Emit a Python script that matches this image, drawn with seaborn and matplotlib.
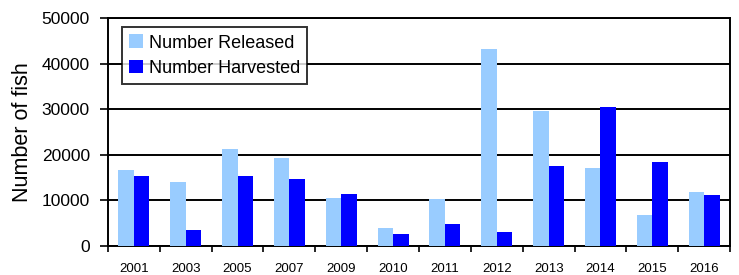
import numpy as np
import pandas as pd
import matplotlib
matplotlib.use("Agg")
import matplotlib.pyplot as plt
import seaborn as sns

years = ["2001", "2003", "2005", "2007", "2009", "2010", "2011", "2012", "2013", "2014", "2015", "2016"]
released = [16700, 14100, 21200, 19400, 10600, 4000, 10200, 43300, 29500, 17200, 6700, 11900]
harvested = [15400, 3600, 15400, 14600, 11500, 2700, 4900, 3100, 17600, 30400, 18500, 11100]

df = pd.DataFrame({
    "Year": years * 2,
    "Value": released + harvested,
    "Series": ["Number Released"] * len(years) + ["Number Harvested"] * len(years),
})

sns.set_style("white")
plt.rcParams["font.family"] = ["Liberation Sans", "DejaVu Sans"]
plt.rcParams["text.color"] = "black"
plt.rcParams["axes.labelcolor"] = "black"
plt.rcParams["xtick.color"] = "black"
plt.rcParams["ytick.color"] = "black"

fig = plt.figure(figsize=(7.39, 2.75), dpi=100)
ax = fig.add_axes([0.146, 0.1055, 0.842, 0.829])

sns.barplot(data=df, x="Year", y="Value", hue="Series",
            palette=["#99CCFF", "#0000FF"], width=0.6, gap=0,
            saturation=1, ax=ax, errorbar=None, zorder=3, linewidth=0)

ax.set_ylim(0, 50000)
ax.set_xlim(-0.5, len(years) - 0.5)
ax.set_yticks(np.arange(0, 50001, 10000))
ax.set_yticklabels([str(v) for v in range(0, 50001, 10000)], fontsize=12.5)
ax.yaxis.grid(True, color="black", linewidth=1.4, zorder=0)
ax.set_axisbelow(True)

ax.set_xticks(range(len(years)))
ax.set_xticklabels(years, fontsize=9.5)
ax.tick_params(axis="x", which="major", length=0, pad=12)
ax.set_xticks(np.arange(-0.5, len(years)), minor=True)
ax.tick_params(axis="x", which="minor", length=4, width=1.2, color="black", direction="out")
ax.tick_params(axis="y", length=6, width=1.2, color="black", direction="out", pad=7)
ax.yaxis.set_tick_params(left=True)
ax.xaxis.set_tick_params(bottom=True, which="minor")

for s in ax.spines.values():
    s.set_color("black")
    s.set_linewidth(1.4)

ax.set_xlabel("")
ax.set_ylabel("Number of fish", fontsize=15.5, labelpad=6)

leg = ax.legend(loc="upper left", bbox_to_anchor=(0.022, 0.96), fontsize=13,
                frameon=True, fancybox=False, edgecolor="black",
                handlelength=0.8, handleheight=0.8, handletextpad=0.3,
                borderpad=0.4, labelspacing=0.45, borderaxespad=0)
leg.get_frame().set_linewidth(1.4)
leg.set_zorder(5)

fig.savefig("out.png", dpi=100)
